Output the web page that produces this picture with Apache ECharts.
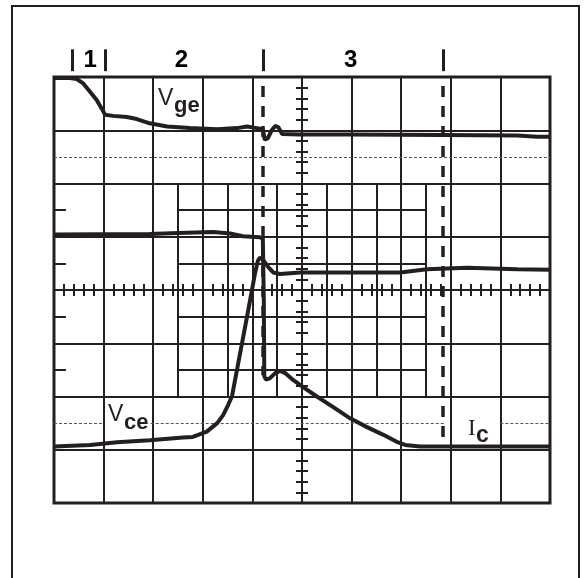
<!DOCTYPE html>
<html>
<head>
<meta charset="utf-8">
<script src="https://cdn.jsdelivr.net/npm/echarts@6/dist/echarts.min.js"></script>
<style>
  html, body { margin: 0; padding: 0; background: #fff; }
  #chart { width: 586px; height: 578px; }
</style>
</head>
<body>
<div id="chart"></div>
<script>
// scope screen in divisions: time -5..5, amplitude -4..4, origin at the centre
var vgeTrace = [
  [-5.00, 3.98], [-4.68, 3.98], [-4.54, 3.96], [-4.41, 3.88], [-4.27, 3.72],
  [-4.14, 3.57], [-4.04, 3.41], [-3.97, 3.29], [-3.81, 3.27], [-3.53, 3.25],
  [-3.33, 3.21], [-3.07, 3.13], [-2.72, 3.07], [-2.26, 3.04], [-1.71, 3.02],
  [-1.31, 3.04], [-1.11, 3.07], [-0.91, 3.04], [-0.79, 3.02], [-0.75, 2.82],
  [-0.69, 2.85], [-0.61, 3.00], [-0.54, 3.08], [-0.48, 3.06], [-0.40, 2.93],
  [-0.04, 2.92], [0.97, 2.92], [2.84, 2.91], [4.34, 2.90], [4.74, 2.88], [5.00, 2.88]
];
var icTrace = [
  [-5.00, 1.04], [-3.07, 1.05], [-2.50, 1.07], [-1.79, 1.09], [-1.45, 1.06],
  [-1.19, 1.01], [-0.85, 0.99], [-0.79, 0.97], [-0.77, -0.19], [-0.76, -1.62],
  [-0.73, -1.68], [-0.65, -1.66], [-0.54, -1.56], [-0.44, -1.52], [-0.34, -1.56],
  [-0.18, -1.69], [0.03, -1.83], [0.30, -2.00], [0.63, -2.20], [0.97, -2.41],
  [1.30, -2.57], [1.64, -2.72], [1.91, -2.85], [2.08, -2.91], [2.38, -2.94], [5.00, -2.94]
];
var vceTrace = [
  [-5.00, -2.94], [-4.27, -2.91], [-3.73, -2.86], [-3.07, -2.82], [-2.40, -2.77],
  [-2.20, -2.76], [-1.92, -2.66], [-1.71, -2.50], [-1.59, -2.35], [-1.49, -2.16],
  [-1.41, -1.99], [-1.25, -1.20], [-1.09, -0.41], [-0.95, 0.30], [-0.89, 0.55],
  [-0.85, 0.61], [-0.78, 0.56], [-0.68, 0.43], [-0.58, 0.33], [-0.44, 0.30],
  [-0.04, 0.33], [1.98, 0.33], [2.52, 0.39], [3.33, 0.42], [4.34, 0.39], [5.00, 0.38]
];

// phases of the switching interval
var phaseNames = ['1', '2', '3'];
var phaseLabelX = [-4.27, -2.43, 0.98];
var phaseTickX = [-4.63, -3.97, -0.79, 2.84];
var cursorX = [-0.79, 2.84];
var cursorEnd = [-1.6, -2.94];

// finer half-division grid in the middle of the screen
var halfX = [-2.5, -1.5, -0.5, 0.5, 1.5, 2.5];
var halfY = [1.5, 0.5, -0.5, -1.5];
var dashRows = [[2.5, -5, 5], [-2.5, -5, -4], [-2.5, -3.05, 2.9], [-2.5, 4.0, 5]];

var ink = '#231f20';
var chart = echarts.init(document.getElementById('chart'));

var innerGrid = [];
halfX.forEach(function (x) { innerGrid.push({ coords: [[x, 2], [x, -2]] }); });
halfY.forEach(function (y) { innerGrid.push({ coords: [[-2.5, y], [2.5, y]] }); });
var leftTicks = halfY.map(function (y) { return { coords: [[-5, y], [-4.76, y]] }; });
var dashed = dashRows.map(function (r) { return { coords: [[r[1], r[0]], [r[2], r[0]]] }; });
var phaseTicks = phaseTickX.map(function (x) { return { coords: [[x, 4.52], [x, 4.11]] }; });
var cursors = cursorX.map(function (x, i) { return { coords: [[x, 3.83], [x, cursorEnd[i]]] }; });

function centreX(pos) {
  return {
    type: 'value', min: -5, max: 5, interval: 1, position: pos,
    axisLine: { show: true, onZero: true, lineStyle: { color: ink, width: 2 } },
    axisTick: { show: false },
    minorTick: { show: true, splitNumber: 5, length: 6, lineStyle: { color: ink, width: 2 } },
    axisLabel: { show: false },
    splitLine: { show: pos === 'bottom', lineStyle: { color: ink, width: 2 } }
  };
}
function centreY(pos) {
  return {
    type: 'value', min: -4, max: 4, interval: 1, position: pos,
    axisLine: { show: true, onZero: true, lineStyle: { color: ink, width: 2 } },
    axisTick: { show: false },
    minorTick: { show: true, splitNumber: 5, length: 6, lineStyle: { color: ink, width: 2 } },
    axisLabel: { show: false },
    splitLine: { show: pos === 'left', lineStyle: { color: ink, width: 2 } }
  };
}
function segs(data, style, z) {
  return {
    type: 'lines', coordinateSystem: 'cartesian2d', polyline: false, clip: false,
    silent: true, z: z || 1, data: data,
    lineStyle: Object.assign({ color: ink, width: 2, opacity: 1 }, style)
  };
}
function trace(name, data) {
  return {
    name: name, type: 'line', data: data, showSymbol: false, symbol: 'none',
    z: 5, lineStyle: { color: ink, width: 4 }
  };
}

var option = {
  animation: false,
  backgroundColor: '#fff',
  grid: {
    left: 54, top: 77, width: 496, height: 426,
    show: true, borderColor: ink, borderWidth: 3, backgroundColor: 'transparent'
  },
  xAxis: [centreX('bottom'), centreX('top')],
  yAxis: [centreY('left'), centreY('right')],
  series: [
    segs(innerGrid, {}),
    segs(leftTicks, {}),
    segs(dashed, { color: '#555', width: 1, type: [3, 2] }),
    segs(phaseTicks, { width: 3 }, 4),
    segs(cursors, { width: 3.5, type: [11, 9] }, 4),
    trace('Vge', vgeTrace),
    trace('Ic', icTrace),
    trace('Vce', vceTrace),
    {
      type: 'scatter', clip: false, symbolSize: 0, silent: true, z: 6,
      itemStyle: { color: ink, opacity: 1 },
      data: phaseNames.map(function (n, i) { return [phaseLabelX[i], 4.31, n]; }),
      label: {
        show: true, position: 'inside', color: '#000', opacity: 1, textBorderWidth: 0,
        fontFamily: 'Liberation Sans', fontSize: 24, fontWeight: 'bold',
        formatter: function (p) { return p.value[2]; }
      }
    }
  ],
  graphic: [
    { type: 'rect', z: 0, shape: { x: 12, y: 6, width: 567, height: 640 },
      style: { fill: 'none', stroke: ink, lineWidth: 2 } },
    { type: 'text', z: 100, x: 158, y: 98.7,
      style: { text: 'V', font: '23px "Liberation Sans", Arial', fill: ink, textVerticalAlign: 'middle' } },
    { type: 'text', z: 100, x: 174, y: 105.6,
      style: { text: 'ge', font: 'bold 22px "Liberation Sans", Arial', fill: ink, textVerticalAlign: 'middle' } },
    { type: 'text', z: 100, x: 108, y: 414.3,
      style: { text: 'V', font: '23px "Liberation Sans", Arial', fill: ink, textVerticalAlign: 'middle' } },
    { type: 'text', z: 100, x: 124, y: 423.3,
      style: { text: 'ce', font: 'bold 22px "Liberation Sans", Arial', fill: ink, textVerticalAlign: 'middle' } },
    { type: 'text', z: 100, x: 468, y: 428.9,
      style: { text: 'I', font: '23px "Liberation Serif", "Times New Roman"', fill: ink, textVerticalAlign: 'middle' } },
    { type: 'text', z: 100, x: 476, y: 436,
      style: { text: 'c', font: 'bold 23px "Liberation Sans", Arial', fill: ink, textVerticalAlign: 'middle' } }
  ]
};

chart.setOption(option);
</script>
</body>
</html>
